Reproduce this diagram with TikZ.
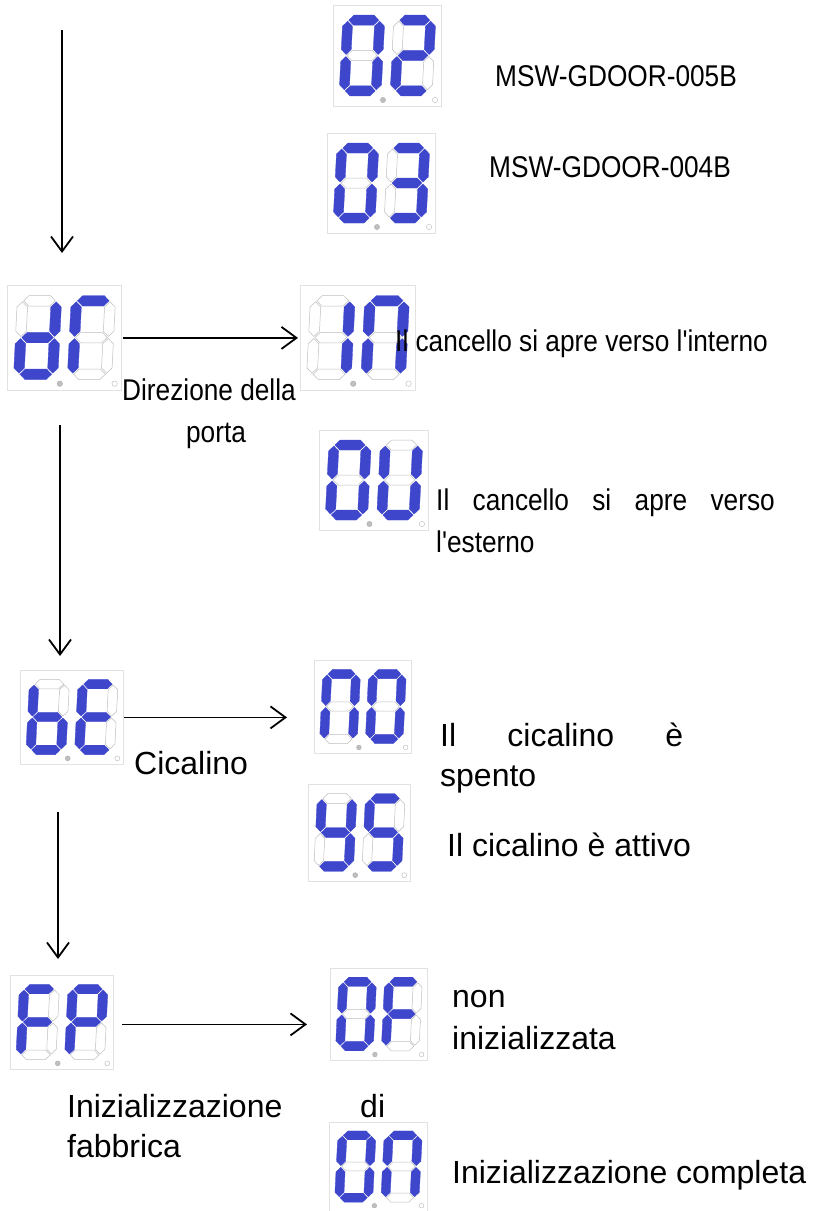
\documentclass[tikz,border=0pt]{standalone}
\usepackage{fontspec}
\usepackage{graphicx}
\setmainfont{Liberation Sans}
\usetikzlibrary{arrows.meta}
\definecolor{segblue}{RGB}{62,70,204}
\definecolor{segoff}{RGB}{190,190,190}
\definecolor{boxgray}{RGB}{226,226,226}
\tikzset{
  seg1/.style={fill=segblue, draw=segblue, line width=0.3pt},
  seg0/.style={fill=white, draw=segoff, line width=0.5pt},
  dispbox/.style={draw=boxgray, line width=0.8pt, rectangle, inner sep=0pt, fill=white},
  dotA/.style={fill=gray!50, draw=gray!65, line width=0.4pt},
  dotB/.style={fill=white, draw=gray!55, line width=0.4pt},
  conn/.style={line width=1.8pt, -{Straight Barb[length=15pt,width=22pt]}},
  lbl/.style={inner sep=0pt, anchor=base west},
}
\newcommand\fbig{\fontsize{32}{40}\selectfont}
\newcommand\fbigw{\fontsize{32}{42}\selectfont}
\newcommand\fcond{\fontsize{30}{42}\selectfont}
\newcommand\cnd[1]{\scalebox{0.875}[1]{#1}}
\newcommand\apos{\textquotesingle}
\def\sevsegs#1#2#3#4#5#6#7{%
  \filldraw[seg#1] (6,-75) -- ++(5,-5) -- ++(20,0) -- ++(5,5) -- ++(-5,5) -- ++(-20,0) -- cycle;
  \filldraw[seg#2] (37,-74) -- ++(5,5) -- ++(0,23) -- ++(-5,5) -- ++(-5,-5) -- ++(0,-23) -- cycle;
  \filldraw[seg#3] (37,-39) -- ++(5,5) -- ++(0,23) -- ++(-5,5) -- ++(-5,-5) -- ++(0,-23) -- cycle;
  \filldraw[seg#4] (6,-5) -- ++(5,-5) -- ++(20,0) -- ++(5,5) -- ++(-5,5) -- ++(-20,0) -- cycle;
  \filldraw[seg#5] (5,-39) -- ++(5,5) -- ++(0,23) -- ++(-5,5) -- ++(-5,-5) -- ++(0,-23) -- cycle;
  \filldraw[seg#6] (5,-74) -- ++(5,5) -- ++(0,23) -- ++(-5,5) -- ++(-5,-5) -- ++(0,-23) -- cycle;
  \filldraw[seg#7] (6,-40) -- ++(5,-5) -- ++(20,0) -- ++(5,5) -- ++(-5,5) -- ++(-20,0) -- cycle;
}
\newcommand\sevdig[3]{\begin{scope}[shift={(#1,#2+80)}, xslant=0.05]\sevsegs#3\relax\end{scope}}
\newcommand\disp[7]{%
  \node[dispbox, minimum width=#4pt, minimum height=#5pt, anchor=north west] (#1) at (#2,#3) {};
  \begin{scope}[shift={(#2,#3)}, xscale=#4/108, yscale=#5/100]
    \sevdig{6}{10}{#6}
    \sevdig{57}{10}{#7}
    \filldraw[dotA] (50,94) circle (2.6pt);
    \filldraw[dotB] (102,94) circle (2.6pt);
  \end{scope}}
\begin{document}
\begin{tikzpicture}[x=1pt,y=-1pt]
\fill[white] (0,0) rectangle (816,1211);
\useasboundingbox (0,0) rectangle (816,1211);

% displays
\disp{d02}{333}{5}{108}{101}{1111110}{1101101}
\disp{d03}{327}{133}{108}{100}{1111110}{1111001}
\disp{ddr}{7}{285}{114}{105}{0111101}{1000110}
\disp{din}{300}{285}{115}{105}{0110000}{1110110}
\disp{dou}{319}{430}{109}{100}{1111110}{0111110}
\disp{dbe}{20}{670}{103}{94}{0011111}{1001111}
\disp{dno}{314}{660}{97}{93}{1110110}{1111110}
\disp{dys}{308}{784}{102}{97}{0111011}{1011011}
\disp{dfp}{10}{975}{103}{94}{1000111}{1100111}
\disp{dof}{330}{968}{97}{92}{1111110}{1000111}
\disp{don}{329}{1122}{98}{89}{1111110}{1110110}

% labels
\node[lbl] (t1) at (495,86) {\fcond\cnd{MSW-GDOOR-005B}};
\node[lbl] (t2) at (489,177) {\fcond\cnd{MSW-GDOOR-004B}};
\node[lbl] (t3) at (395,351) {\fcond\cnd{Il cancello si apre verso l\apos interno}};
\node[inner sep=0pt, anchor=base] (t4) at (209,400) {\fcond\cnd{\begin{tabular}[t]{@{}c@{}}Direzione della\\\hspace*{16pt}porta\end{tabular}}};
\node[lbl] (t5) at (436,510) {\fcond\cnd{\begin{tabular}[t]{@{}l@{}}\hbox to 387pt{Il\hfill cancello\hfill si\hfill apre\hfill verso}\\l\apos esterno\end{tabular}}};
\node[lbl] (t6) at (134,774) {\fbig Cicalino};
\node[lbl] (t7) at (440,746) {\fbig\begin{tabular}[t]{@{}l@{}}\hbox to 243pt{Il\hfill cicalino\hfill è}\\spento\end{tabular}};
\node[lbl] (t8) at (447,856) {\fbig Il cicalino è attivo};
\node[lbl] (t9) at (452,1007) {\fbigw\begin{tabular}[t]{@{}l@{}}non\\inizializzata\end{tabular}};
\node[lbl] (t10) at (67,1117) {\fbig\begin{tabular}[t]{@{}l@{}}\hbox to 318pt{Inizializzazione\hfill di}\\fabbrica\end{tabular}};
\node[lbl] (t11) at (452,1183) {\fbig Inizializzazione completa};

% connectors
\coordinate (v1s) at (62,30);
\coordinate (v1e) at (62,253);
\coordinate (v2s) at (60,425);
\coordinate (v2e) at (60,656);
\coordinate (v3s) at (58,812);
\coordinate (v3e) at (58,959);
\draw[conn] (v1s) -- (v1e);
\draw[conn] (v2s) -- (v2e);
\draw[conn] (v3s) -- (v3e);
\draw[conn, shorten <=1pt, shorten >=2pt] (ddr.east) -- (din.west);
\draw[conn, shorten >=27pt] (dbe.east) -- (dbe.east -| dno.west);
\draw[conn, shorten <=8pt, shorten >=23pt] ([yshift=-2pt]dfp.east) -- ([yshift=-2pt]dfp.east -| dof.west);
\end{tikzpicture}
\end{document}
